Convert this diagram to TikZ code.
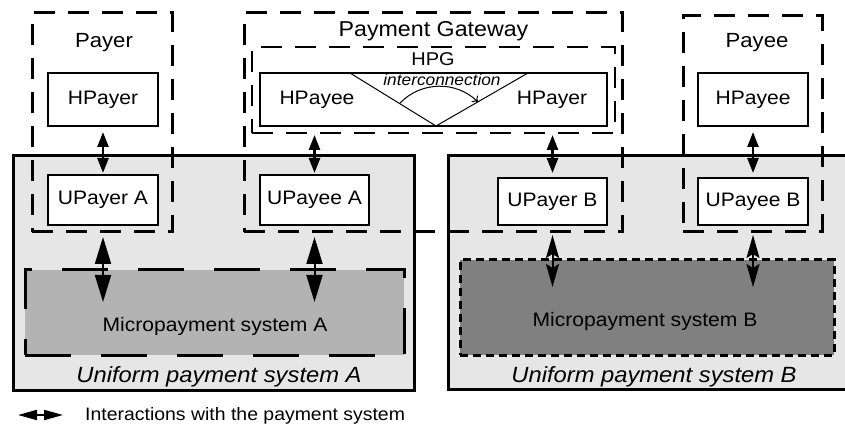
\documentclass[tikz,border=0pt]{standalone}
\usepackage{fontspec}
\setmainfont{Liberation Sans}[FakeStretch=1.08]
\usetikzlibrary{arrows.meta}
\definecolor{uniGray}{HTML}{E6E6E6}
\definecolor{microAGray}{HTML}{B3B3B3}
\definecolor{microBGray}{HTML}{808080}
\begin{document}
\begin{tikzpicture}[x=1pt,y=-1pt,
  abox/.style={rectangle, inner sep=0pt, outer sep=0pt},
  unibox/.style={abox, draw, line width=3pt, fill=uniGray},
  grpbox/.style={abox, draw, line width=3pt, dash pattern=on 21pt off 13pt},
  hpgbox/.style={abox, draw, line width=2pt, dash pattern=on 21pt off 13pt},
  entity/.style={abox, draw, line width=2pt, fill=white, font=\fontsize{19.5}{22}\selectfont},
  lbl/.style={inner sep=0pt, anchor=base, font=\fontsize{19.5}{22}\selectfont},
  title/.style={inner sep=0pt, anchor=base, font=\fontsize{20.5}{24}\selectfont},
  unilbl/.style={inner sep=0pt, anchor=base, font=\fontsize{22}{24}\selectfont\itshape},
  toparrow/.style={line width=2.5pt, {Triangle[length=15pt,width=11pt]}-{Triangle[length=15pt,width=11pt]}},
  lowAarrow/.style={line width=2pt, {Triangle[length=27pt,width=16pt]}-{Triangle[length=27pt,width=16pt]}},
  lowBarrow/.style={line width=2pt, {Stealth[length=23pt,width=13pt,inset=4pt]}-{Stealth[length=23pt,width=13pt,inset=4pt]}}
]
\useasboundingbox (0,0) rectangle (845,427);
\clip (0,0) rectangle (845,427);

% uniform payment systems
\node[unibox, minimum width=401pt, minimum height=234pt] (uniA) at (213.5,273) {};
\node[unibox, minimum width=404pt, minimum height=233pt] (uniB) at (650,272.5) {};

% micropayment systems
\node[abox, draw, line width=3pt, fill=microAGray, dash pattern=on 46pt off 30pt,
      minimum width=379pt, minimum height=85pt] (microA) at (214.5,312.5) {};
\node[abox, draw, line width=3pt, fill=microBGray, dash pattern=on 8pt off 5pt,
      minimum width=374pt, minimum height=95pt] (microB) at (647,307.5) {};
\node[lbl] (microAtxt) at (215,331) {Micropayment system A};
\node[lbl] (microBtxt) at (645,326) {Micropayment system B};
\node[unilbl] (uniAtxt) at (219,382) {Uniform payment system A};
\node[unilbl] (uniBtxt) at (654,382) {Uniform payment system B};

% dashed group boxes
\node[grpbox, minimum width=140pt, minimum height=219pt] (payer) at (102,122.5) {};
\node[grpbox, minimum width=378pt, minimum height=219pt] (pg) at (433,122.5) {};
\node[grpbox, minimum width=139pt, minimum height=216pt] (payee) at (752.5,124) {};
\node[hpgbox, minimum width=363pt, minimum height=86pt] (hpg) at (433.5,90) {};

\node[title] (payertxt) at (104,48) {Payer};
\node[title] (payeetxt) at (757,48) {Payee};
\node[inner sep=0pt, anchor=base, font=\fontsize{21.5}{24}\selectfont] (pgtxt) at (433.5,37) {Payment Gateway};
\node[inner sep=0pt, anchor=base, font=\fontsize{18.5}{22}\selectfont] (hpgtxt) at (433,66) {HPG};

% entity boxes
\node[entity, minimum width=110pt, minimum height=53pt] (hpayer) at (103,99.5) {HPayer};
\node[entity, minimum width=110pt, minimum height=50pt] (upayerA) at (103,200) {UPayer A};
\node[entity, minimum width=109pt, minimum height=50pt] (upayeeA) at (314.5,200) {UPayee A};
\node[entity, minimum width=109pt, minimum height=47pt] (upayerB) at (552.5,201.5) {UPayer B};
\node[entity, minimum width=110pt, minimum height=53pt] (hpayee) at (753,99.5) {HPayee};
\node[entity, minimum width=110pt, minimum height=47pt] (upayeeB) at (753,201.5) {UPayee B};

% HPG inner box
\node[abox, draw, line width=2pt, fill=white, minimum width=347pt, minimum height=53pt] (hpgin) at (433.5,99.5) {};
\node[lbl] (hpayeeG) at (317,105) {HPayee};
\node[lbl] (hpayerG) at (552,105) {HPayer};
\coordinate (vl) at (350,73);
\coordinate (vb) at (436,126);
\coordinate (vr) at (528,73);
\draw[line width=1pt] (vl) -- (vb) -- (vr);
\node[inner sep=0pt, anchor=base, font=\fontsize{16}{18}\selectfont\itshape] (icx) at (442,86) {interconnection};
\coordinate (arcS) at (400,103);
\coordinate (arcE) at (478,102);
\draw[line width=1pt, -{To[length=5pt,width=9pt]}] (arcS) to[bend left=45] (arcE);

% top interactions
\draw[toparrow, shorten <=6pt, shorten >=2pt] (hpayer.south) -- (upayerA.north);
\draw[toparrow, shorten <=2pt, shorten >=2pt] (upayeeA.north |- hpg.south) -- (upayeeA.north);
\draw[toparrow, shorten <=2pt, shorten >=5pt] (upayerB.north |- hpg.south) -- (upayerB.north);
\draw[toparrow, shorten <=6pt, shorten >=5pt] (hpayee.south) -- (upayeeB.north);

% lower interactions
\draw[lowAarrow, shorten <=12pt, shorten >=-32pt] (upayerA.south) -- (upayerA.south |- microA.north);
\draw[lowAarrow, shorten <=12pt, shorten >=-32pt] (upayeeA.south) -- (upayeeA.south |- microA.north);
\draw[lowBarrow, shorten <=10pt, shorten >=-27pt] (upayerB.south) -- (upayerB.south |- microB.north);
\draw[lowBarrow, shorten <=10pt, shorten >=-27pt] (upayeeB.south) -- (upayeeB.south |- microB.north);

% legend
\coordinate (legL) at (18,415);
\coordinate (legR) at (63,415);
\draw[line width=2pt, {Triangle[length=19pt,width=10pt]}-{Triangle[length=19pt,width=10pt]}] (legL) -- (legR);
\node[inner sep=0pt, anchor=base west, font=\fontsize{18}{20}\selectfont] (legtxt) at (85,420) {Interactions with the payment system};
\end{tikzpicture}
\end{document}
